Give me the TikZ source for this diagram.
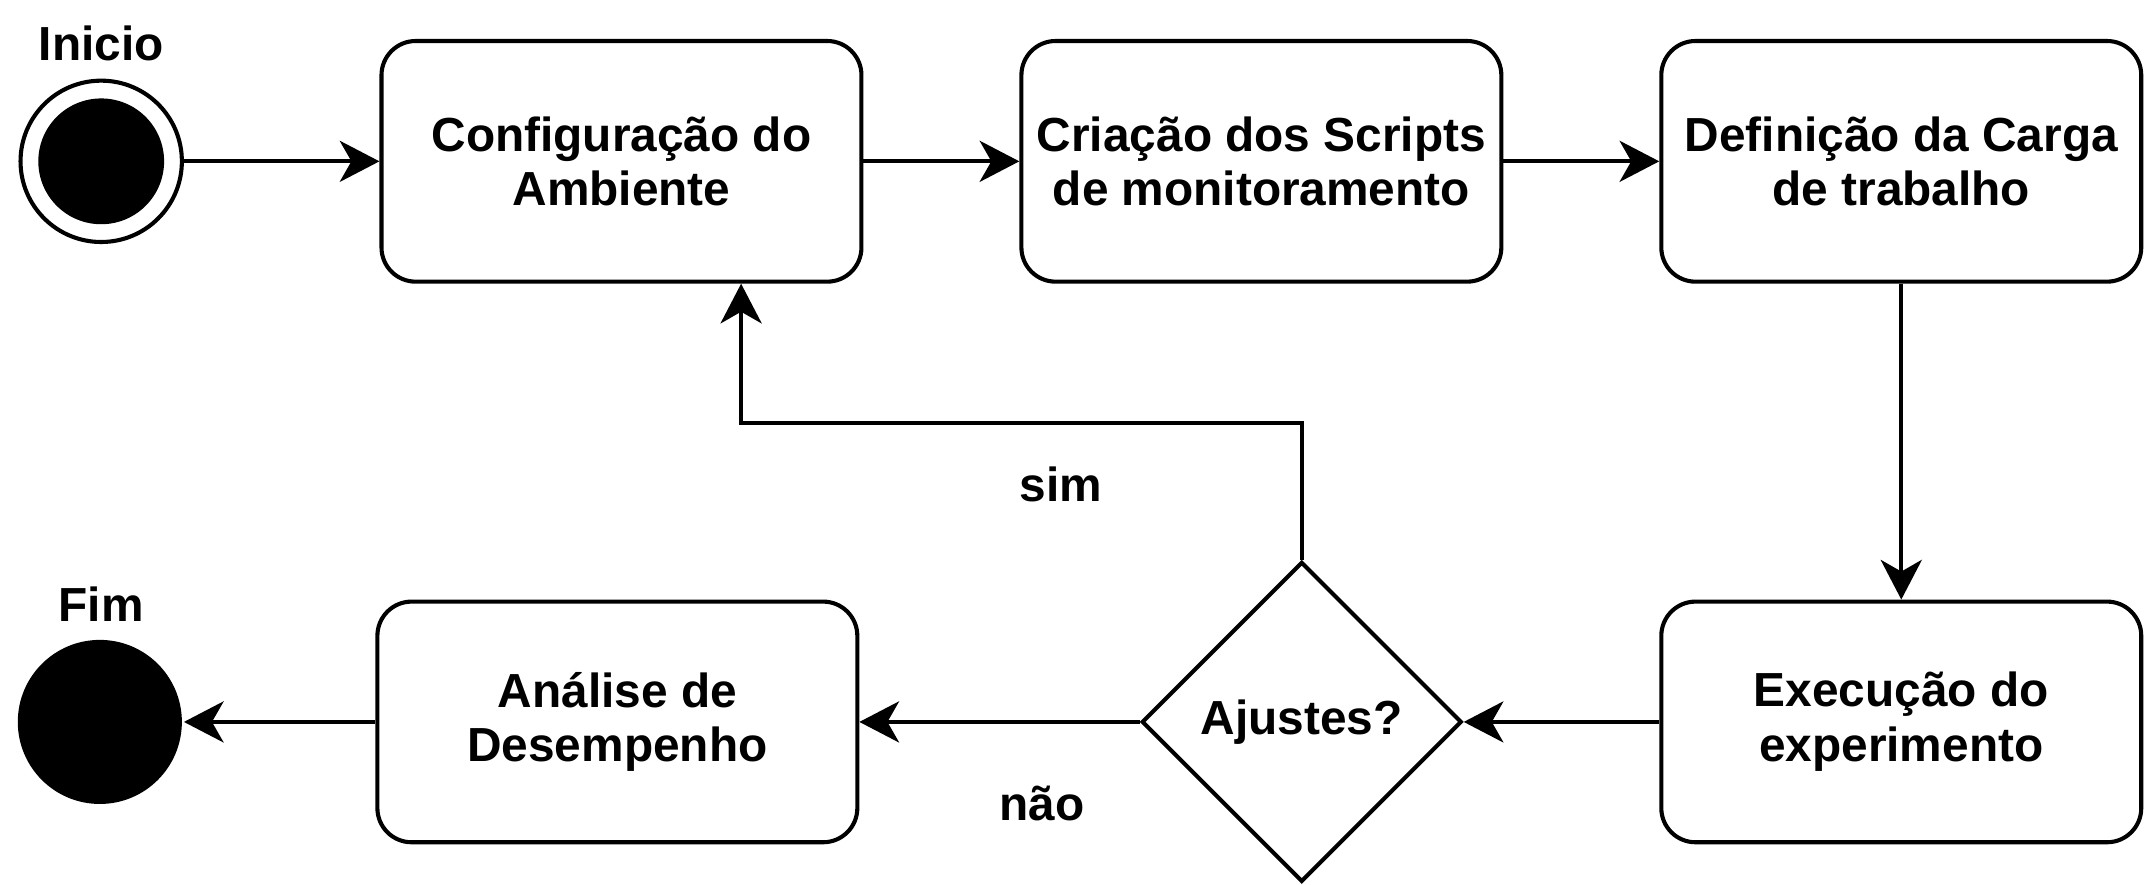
\documentclass[tikz,border=0pt]{standalone}
\usepackage{fontspec}
\setmainfont{Liberation Sans}
\usetikzlibrary{shapes.geometric,arrows.meta,positioning}

\begin{document}
\begin{tikzpicture}[
    font=\fontsize{19.9}{22.8}\selectfont\bfseries,
    line width=1.7pt,
    >={Stealth[length=0.58cm, width=0.6cm, inset=0.17cm]},
    block/.style={
        rectangle, draw=black, rounded corners=0.5cm, align=center,
        minimum width=7.02cm, minimum height=3.52cm, inner sep=0pt
    },
    decision/.style={
        diamond, draw=black, aspect=1, inner sep=0pt,
        minimum width=4.68cm, minimum height=4.68cm
    },
    arrow/.style={->},
    label text/.style={inner sep=0pt},
]
  \useasboundingbox (0,0) rectangle (31.36,12.94);

  %––– Top row ––––––––––––––––––––––––––––––––––––––––––––––
  \node (config) [block] at (9.09,10.58) {Configuração do\\Ambiente};
  \node (scripts) [block, right=2.28cm of config] {Criação dos Scripts\\de monitoramento};
  \node (carga) [block, right=2.28cm of scripts] {Definição da Carga\\de trabalho};

  % start state
  \node (start) [circle, draw=black, minimum size=2.36cm, inner sep=0pt,
                 left=2.86cm of config] {};
  \node (startdot) [circle, fill=black, minimum size=1.84cm, inner sep=0pt] at (start) {};
  \node (inicio) [label text] at (1.48,12.3) {Inicio};

  %––– Bottom row –––––––––––––––––––––––––––––––––––––––––––
  \node (exec) [block, below=4.62cm of carga] {Execução do\\experimento};
  \node (ajustes) [decision, left=2.86cm of exec] {Ajustes?};
  \node (analise) [block, left=4.1cm of ajustes] {Análise de\\Desempenho};

  % end state
  \node (stop) [circle, fill=black, minimum size=2.4cm, inner sep=0pt,
                left=2.8cm of analise] {};
  \node (fim) [label text] at (1.48,4.1) {Fim};

  %––– Arrows –––––––––––––––––––––––––––––––––––––––––––––––
  \draw[arrow] (start.east) -- (config.west);
  \draw[arrow] (config.east) -- (scripts.west);
  \draw[arrow] (scripts.east) -- (carga.west);
  \draw[arrow] (carga.south) -- (exec.north);
  \draw[arrow] (exec.west) -- (ajustes.east);
  \draw[arrow] (ajustes.west) -- (analise.east);
  \draw[arrow] (analise.west) -- (stop.east);

  % loop back
  \coordinate (loopin) at ([xshift=1.75cm]config.south);
  \draw[arrow] (ajustes.north) |- ++(-3,2.0) -| (loopin);

  \node (sim) [label text] at (15.52,5.86) {sim};
  \node (nao) [label text] at (15.24,1.18) {não};
\end{tikzpicture}
\end{document}
